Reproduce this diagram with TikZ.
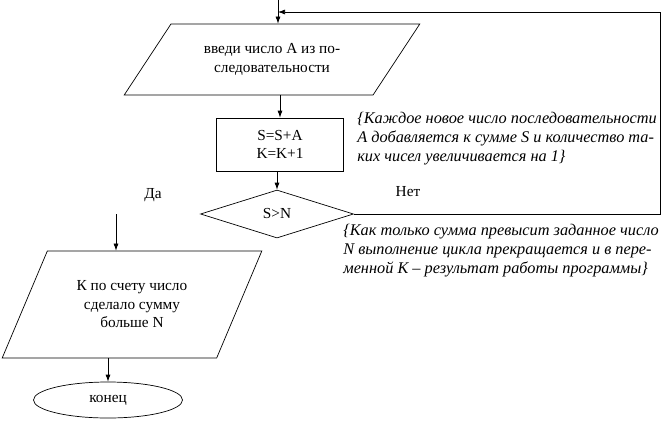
\documentclass[tikz,border=0pt]{standalone}
\usepackage{fontspec}
\setmainfont{Liberation Serif}
\usepackage{tikz}
\usetikzlibrary{positioning, shapes.geometric, arrows.meta}

\begin{document}
\begin{tikzpicture}[
        x=1pt, y=-1pt,
        every node/.style={align=center, font=\fontsize{15.3}{18.5}\selectfont},
        every path/.style={line width=0.7pt},
        io/.style={trapezium, draw, trapezium stretches=true, inner sep=0pt},
        process/.style={rectangle, draw, inner sep=0pt, minimum width=127, minimum height=53},
        decision/.style={diamond, draw, inner sep=0pt, minimum width=153, minimum height=48},
        terminal/.style={ellipse, draw, inner sep=0pt, minimum width=149, minimum height=36},
        remark/.style={align=left, anchor=north west, inner sep=0pt,
            font=\fontsize{16.3}{18.7}\selectfont\itshape},
        arrow/.style={-{Latex[length=7pt, width=5pt]}}
    ]
    \useasboundingbox (0,0) rectangle (661,421);

    % Main flow
    \coordinate (start) at (278,0);
    \node[io, trapezium left angle=45, trapezium right angle=135,
          minimum width=296, minimum height=71] (in) at (272,59.5)
          {введи число А из по-\\следовательности};
    \node[process] (calc) at (280,144.5) {S=S+A\\K=K+1};
    \node[decision] (cond) at (277,214) {S>N};
    \coordinate (yes) at (116,214);
    \node[io, trapezium left angle=58, trapezium right angle=122,
          minimum width=260, minimum height=107] (out) at (132,304.5)
          {К по счету число\\сделало сумму\\больше N};
    \node[terminal] (stop) at (108,400) {конец};
    \coordinate (corner) at (660,12);

    % Labels and comments
    \node (no) at (408,192) {Нет};
    \node (da) at (153,195) {Да};
    \node[remark] (note1) at (357,112)
        {\{Каждое новое число последовательности\\
         А добавляется к сумме S и количество та-\\
         ких чисел увеличивается на 1\}};
    \node[remark] (note2) at (343,224)
        {\{Как только сумма превысит заданное число\\
         N выполнение цикла прекращается и в пере-\\
         менной К – результат работы программы\}};

    % Arrows
    \draw[arrow] (start) -- (start |- in.north);
    \draw[arrow] (calc.north |- in.south) -- (calc.north);
    \draw[arrow] (cond.north |- calc.south) -- (cond.north);
    \draw[arrow] (cond.east) -| (corner) -- (start |- corner);
    \draw[arrow] (yes) -- (yes |- out.north);
    \draw[arrow] (stop.north |- out.south) -- (stop.north);

\end{tikzpicture}
\end{document}
